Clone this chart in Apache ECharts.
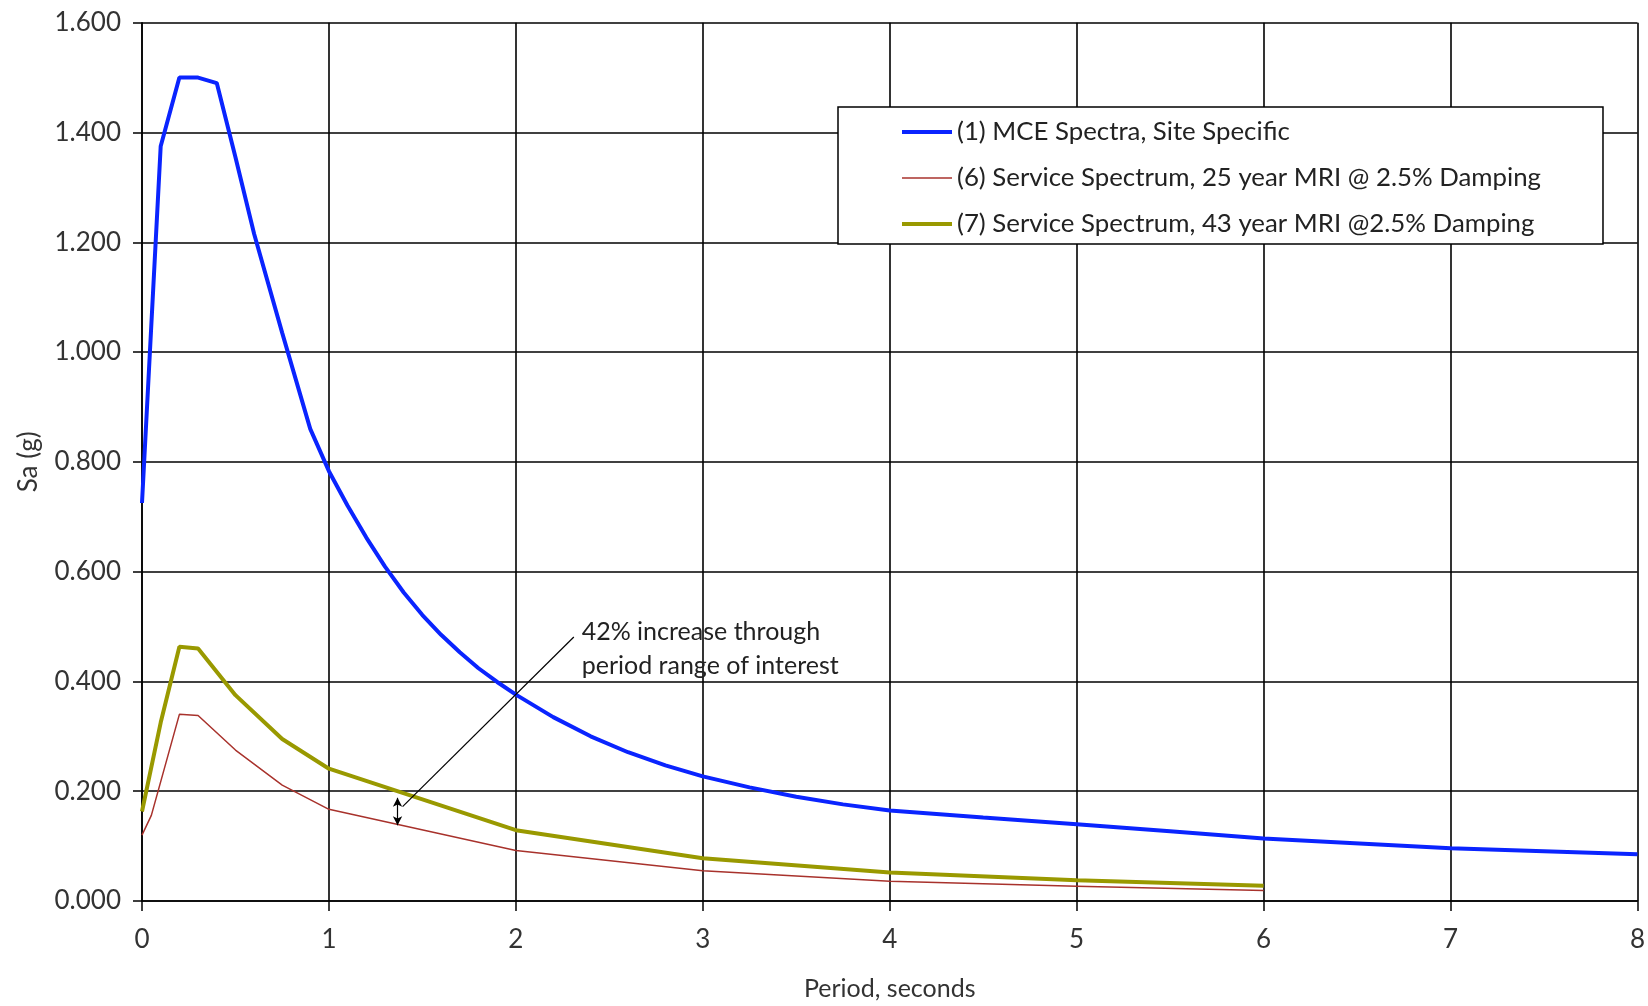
<!DOCTYPE html>
<html>
<head>
<meta charset="utf-8">
<title>Response spectra</title>
<script src="https://cdn.jsdelivr.net/npm/echarts@6/dist/echarts.min.js"></script>
<style>
	html, body { margin: 0; padding: 0; background: #fff; }
	#chart1 { width: 1648px; height: 1006px; }
</style>
</head>
<body>
<div id="chart1"></div>
<script>
// (1) MCE spectra, site specific
var mcePeriod = [0, 0.1, 0.2, 0.3, 0.4, 0.5, 0.6, 0.75, 0.9, 1.0, 1.1, 1.2, 1.3, 1.4, 1.5, 1.6, 1.7, 1.8, 1.9, 2.0, 2.2, 2.4, 2.6, 2.8, 3.0, 3.25, 3.5, 3.75, 4.0, 4.5, 5.0, 5.5, 6.0, 7.0, 8.0];
var mceSa     = [0.725, 1.375, 1.50, 1.50, 1.49, 1.355, 1.215, 1.035, 0.86, 0.783, 0.720, 0.662, 0.609, 0.562, 0.521, 0.485, 0.453, 0.424, 0.399, 0.376, 0.335, 0.300, 0.271, 0.247, 0.227, 0.207, 0.190, 0.176, 0.165, 0.152, 0.140, 0.127, 0.114, 0.096, 0.085];
// (6) service spectrum, 25 year MRI
var s25Period = [0, 0.05, 0.2, 0.3, 0.5, 0.75, 1.0, 2.0, 3.0, 4.0, 5.0, 6.0];
var s25Sa     = [0.12, 0.156, 0.34, 0.338, 0.275, 0.211, 0.167, 0.092, 0.055, 0.036, 0.027, 0.019];
// (7) service spectrum, 43 year MRI
var s43Period = [0, 0.1, 0.2, 0.3, 0.5, 0.75, 1.0, 2.0, 3.0, 4.0, 5.0, 6.0];
var s43Sa     = [0.163, 0.325, 0.463, 0.46, 0.375, 0.295, 0.241, 0.129, 0.078, 0.052, 0.038, 0.028];

var seriesNames = [
	'(1) MCE Spectra, Site Specific',
	'(6) Service Spectrum, 25 year MRI @ 2.5% Damping',
	'(7) Service Spectrum, 43 year MRI @2.5% Damping'
];

// annotation, in data units (period, Sa)
var noteText = '42% increase through\nperiod range of interest';
var noteAt = [2.352, 0.46];
var leaderLine = [[2.31, 0.481], [1.394, 0.172]];
var gapArrow = [[1.367, 0.188], [1.367, 0.138]];

function pairs(xs, ys){
	var out = [];
	for (var i = 0; i < xs.length; i++) out.push([xs[i], ys[i]]);
	return out;
}

function getChart1(){
	var chart = echarts.init(document.getElementById('chart1'));
	var font = 'Lato, "Noto Sans", sans-serif';
	var option = {
		animation: false,
		backgroundColor: '#fff',
		grid: { left: 142, right: 8, top: 22.7, bottom: 103.3 },
		legend: {
			orient: 'vertical',
			left: 838,
			top: 107,
			padding: [12, 62, 7, 62],
			itemGap: 20,
			itemWidth: 50,
			itemHeight: 14,
			backgroundColor: '#fff',
			borderColor: '#000',
			borderWidth: 1.5,
			borderRadius: 0,
			itemStyle: { opacity: 0 },
			data: [
				{ name: seriesNames[0], lineStyle: { width: 4 } },
				{ name: seriesNames[1], lineStyle: { width: 1.5 } },
				{ name: seriesNames[2], lineStyle: { width: 4 } }
			],
			textStyle: { color: '#222', fontSize: 25.8, fontFamily: font }
		},
		xAxis: {
			type: 'value',
			min: 0,
			max: 8,
			interval: 1,
			name: 'Period, seconds',
			nameLocation: 'middle',
			nameGap: 75,
			nameTextStyle: { color: '#333', fontSize: 25, fontFamily: font },
			axisLine: { lineStyle: { color: '#000', width: 1.5 } },
			axisTick: { show: true, length: 10, lineStyle: { color: '#000', width: 1.5 } },
			axisLabel: { margin: 26, color: '#333', fontSize: 26, fontFamily: font },
			splitLine: { show: true, lineStyle: { color: '#000', width: 1.6 } }
		},
		yAxis: {
			type: 'value',
			min: 0,
			max: 1.6,
			interval: 0.2,
			name: 'Sa (g)',
			nameLocation: 'middle',
			nameGap: 100,
			nameTextStyle: { color: '#333', fontSize: 26, fontFamily: font },
			axisLine: { show: true, lineStyle: { color: '#000', width: 1.5 } },
			axisTick: { show: true, length: 9, lineStyle: { color: '#000', width: 1.5 } },
			axisLabel: {
				margin: 21,
				color: '#333',
				fontSize: 26,
				fontFamily: font,
				formatter: function(v){ return v.toFixed(3); }
			},
			splitLine: { show: true, lineStyle: { color: '#000', width: 1.6 } }
		},
		series: [
			{
				name: seriesNames[0],
				type: 'line',
				symbol: 'none',
				color: '#0a24ff',
				lineStyle: { color: '#0a24ff', width: 4 },
				data: pairs(mcePeriod, mceSa),
				z: 3
			},
			{
				name: seriesNames[1],
				type: 'line',
				symbol: 'none',
				color: '#a8322c',
				lineStyle: { color: '#a8322c', width: 1.5 },
				data: pairs(s25Period, s25Sa),
				z: 4
			},
			{
				name: seriesNames[2],
				type: 'line',
				symbol: 'none',
				color: '#999900',
				lineStyle: { color: '#999900', width: 4 },
				data: pairs(s43Period, s43Sa),
				z: 3,
				markLine: {
					silent: true,
					animation: false,
					label: { show: false },
					lineStyle: { color: '#000', width: 1.2, type: 'solid' },
					data: [
						[
							{ coord: leaderLine[0], symbol: 'none' },
							{ coord: leaderLine[1], symbol: 'none' }
						],
						[
							{ coord: gapArrow[0], symbol: 'arrow', symbolSize: [7, 9] },
							{ coord: gapArrow[1], symbol: 'arrow', symbolSize: [7, 9] }
						]
					]
				},
				markPoint: {
					silent: true,
					data: [
						{
							coord: noteAt,
							symbol: 'circle',
							symbolSize: 0,
							label: {
								show: true,
								position: 'right',
								distance: 0,
								formatter: noteText,
								align: 'left',
								verticalAlign: 'middle',
								lineHeight: 34,
								color: '#222',
								fontSize: 25,
								fontFamily: font
							}
						}
					]
				}
			}
		]
	};
	chart.setOption(option);
}

getChart1();
</script>
</body>
</html>
